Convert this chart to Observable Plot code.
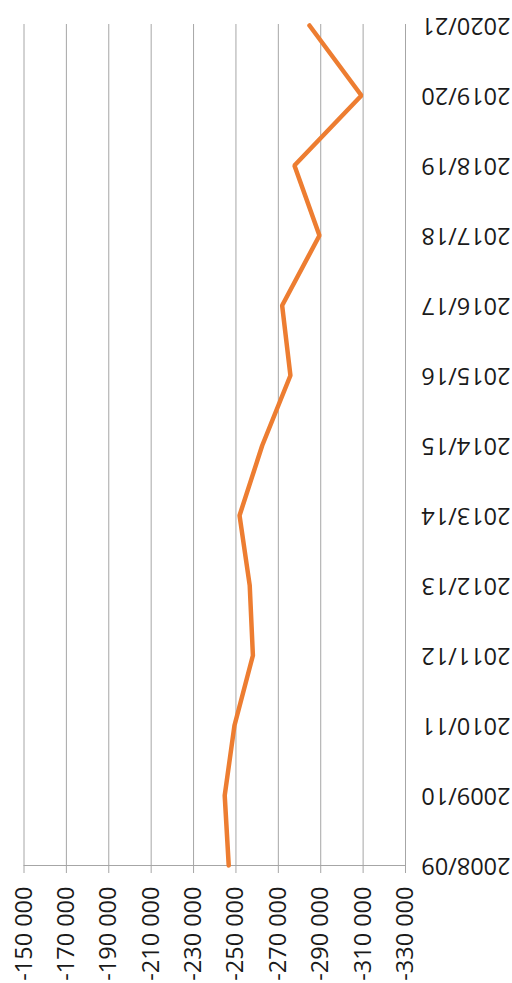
<!DOCTYPE html>
<html>
<head>
<meta charset="utf-8">
<script src="https://cdn.jsdelivr.net/npm/d3@7"></script>
<script src="https://cdn.jsdelivr.net/npm/@observablehq/plot@0.6"></script>
<style>
  html, body { margin: 0; padding: 0; background: #ffffff; overflow: hidden; }
  #chart { width: 512px; height: 983px; }
</style>
</head>
<body>
<div id="chart"></div>
<script>
const years = ["2008/09","2009/10","2010/11","2011/12","2012/13","2013/14","2014/15","2015/16","2016/17","2017/18","2018/19","2019/20","2020/21"];
const values = [-246600, -244700, -249300, -258000, -256500, -251700, -262400, -275700, -271800, -289400, -277600, -309200, -284700];
const valueTicks = [-150000, -170000, -190000, -210000, -230000, -250000, -270000, -290000, -310000, -330000];

const data = years.map((y, i) => ({year: y, value: values[i]}));
const fmt = v => "-" + d3.format(",")(Math.abs(v)).replace(/,/g, " ");
const gridColor = "#a6a6a6";

const chart = Plot.plot({
  width: 512,
  height: 983,
  marginTop: 24,
  marginBottom: 118,
  marginLeft: 23.5,
  marginRight: 107,
  style: {fontFamily: "'Open Sans', sans-serif", fontSize: "23.5px", color: "#1a1a1a", background: "#ffffff"},
  x: {type: "linear", domain: [-150000, -330000]},
  y: {type: "point", domain: years.slice().reverse(), padding: 0},
  marks: [
    Plot.ruleX(valueTicks, {stroke: gridColor, strokeWidth: 1}),
    Plot.frame({anchor: "bottom", stroke: gridColor, strokeWidth: 1}),
    Plot.axisX(valueTicks, {
      anchor: "bottom",
      tickSize: 8,
      tickPadding: 13,
      tickRotate: -90,
      tickFormat: fmt,
      stroke: gridColor,
      fill: "#1a1a1a",
      label: null
    }),
    Plot.axisY({
      anchor: "right",
      tickSize: 0,
      tickPadding: 105,
      tickRotate: 180,
      textAnchor: "start",
      lineAnchor: "middle",
      fill: "#1a1a1a",
      label: null
    }),
    Plot.line(data, {x: "value", y: "year", stroke: "#ED7D31", strokeWidth: 4.5, strokeLinejoin: "miter"})
  ]
});
document.getElementById("chart").appendChild(chart);
</script>
</body>
</html>
